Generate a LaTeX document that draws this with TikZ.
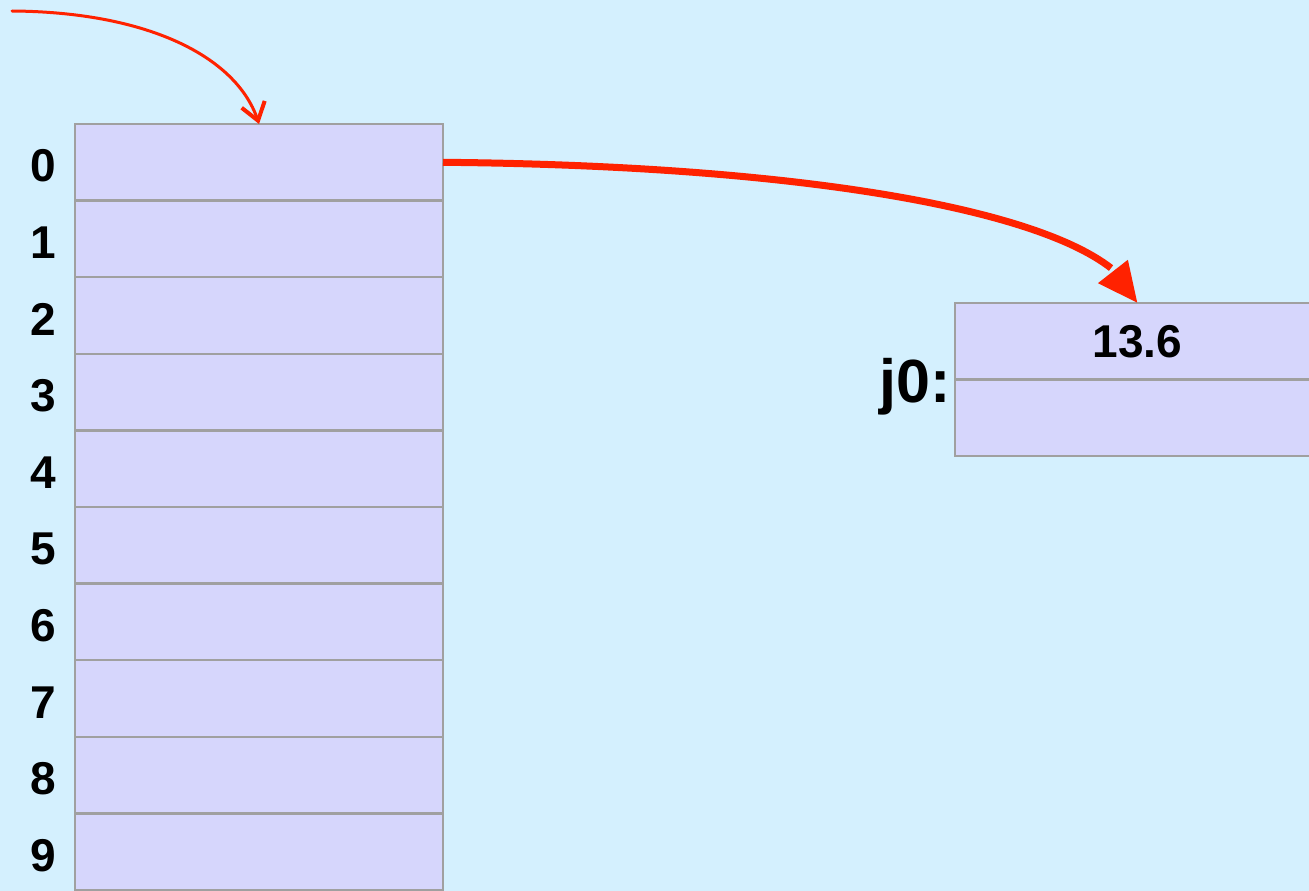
\documentclass[tikz,border=0pt]{standalone}
\usepackage{fontspec}
\setmainfont{Liberation Sans}
\usetikzlibrary{arrows.meta,bending}
\definecolor{bgblue}{RGB}{212,240,254}
\definecolor{cellfill}{RGB}{214,214,252}
\definecolor{cellborder}{RGB}{160,160,160}
\definecolor{arrowred}{RGB}{255,34,0}
\tikzset{
  cell/.style={draw=cellborder, fill=cellfill, line width=2.5pt, rectangle,
    minimum width=368pt, minimum height=76.6pt, inner sep=0pt, outer sep=0pt,
    anchor=north west},
  jcell/.style={draw=cellborder, fill=cellfill, line width=2.5pt, rectangle,
    minimum width=365pt, minimum height=76.5pt, inner sep=0pt, outer sep=0pt,
    anchor=north west, font=\fontsize{46}{50}\selectfont\bfseries},
  idx/.style={font=\fontsize{46}{50}\selectfont\bfseries, inner sep=0pt, anchor=center},
  thinred/.style={draw=arrowred, line width=3pt, line cap=round,
    -{Straight Barb[length=17pt,width=24pt,line width=4pt,flex]}},
  thickred/.style={draw=arrowred, line width=7pt,
    -{Triangle[length=40pt,width=36pt,flex]}}
}
\begin{document}
\begin{tikzpicture}[x=1pt,y=-1pt]
\fill[bgblue] (0,0) rectangle (1309,891);
\useasboundingbox (0,0) rectangle (1309,891);
\clip (0,0) rectangle (1309,891);
\foreach \i in {0,...,9}{
  \node[cell] (c\i) at (75,{124+76.6*\i}) {};
  \node[idx] (l\i) at (43.5,{166+76.6*\i}) {\i};
}
\node[jcell] (jtop) at (955,303) {13.6};
\node[jcell] (jbot) at (955,379.5) {};
\node[font=\fontsize{61}{65}\selectfont\bfseries, inner sep=0pt, anchor=base east] (jlab) at (951,402) {j0:};
\coordinate (start) at (12,11);
\draw[thinred] (start) .. controls (150,12) and (240,58) .. (c0.north);
\draw[thickred] (c0.east) .. controls (850,166) and (1115,222) .. (jtop.north);
\end{tikzpicture}
\end{document}
